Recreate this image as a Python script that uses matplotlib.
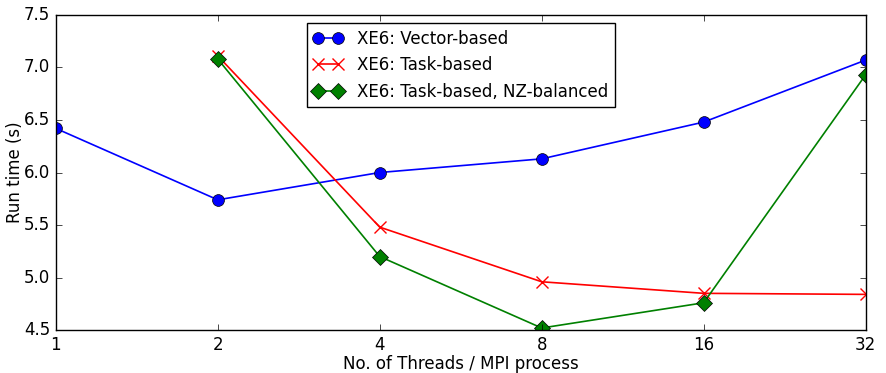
import matplotlib
matplotlib.use("Agg")
import matplotlib.pyplot as plt
from matplotlib.ticker import FixedLocator, NullLocator, FixedFormatter

plt.style.use("classic")

threads = [1, 2, 4, 8, 16, 32]
vector_based = [6.42, 5.74, 6.00, 6.13, 6.48, 7.07]
threads_task = [2, 4, 8, 16, 32]
task_based = [7.11, 5.48, 4.96, 4.85, 4.84]
task_nz = [7.08, 5.20, 4.52, 4.76, 6.93]

fig = plt.figure(figsize=(8.86, 3.73), dpi=100, facecolor="white")
ax = fig.add_subplot(111)
fig.subplots_adjust(left=0.063, right=0.977, top=0.960, bottom=0.115)

ax.plot(threads, vector_based, "b-o", markersize=8.5, linewidth=1.2,
        label="XE6: Vector-based")
ax.plot(threads_task, task_based, "r-x", markersize=9, markeredgewidth=1,
        linewidth=1.2, label="XE6: Task-based")
ax.plot(threads_task, task_nz, "g-D", markersize=8.5, linewidth=1.2,
        label="XE6: Task-based, NZ-balanced")

ax.set_xscale("log", base=2)
ax.set_xlim(1, 32)
ax.set_ylim(4.5, 7.5)
ax.xaxis.set_major_locator(FixedLocator(threads))
ax.xaxis.set_major_formatter(FixedFormatter([str(t) for t in threads]))
ax.xaxis.set_minor_locator(NullLocator())

ax.set_xlabel("No. of Threads / MPI process", fontsize=12, labelpad=1)
ax.set_ylabel("Run time (s)", fontsize=12, labelpad=0)
ax.tick_params(labelsize=12)

ax.legend(loc="upper center", fontsize=12, numpoints=2, handlelength=1.8)

fig.savefig("out.png", dpi=100, facecolor="white")
